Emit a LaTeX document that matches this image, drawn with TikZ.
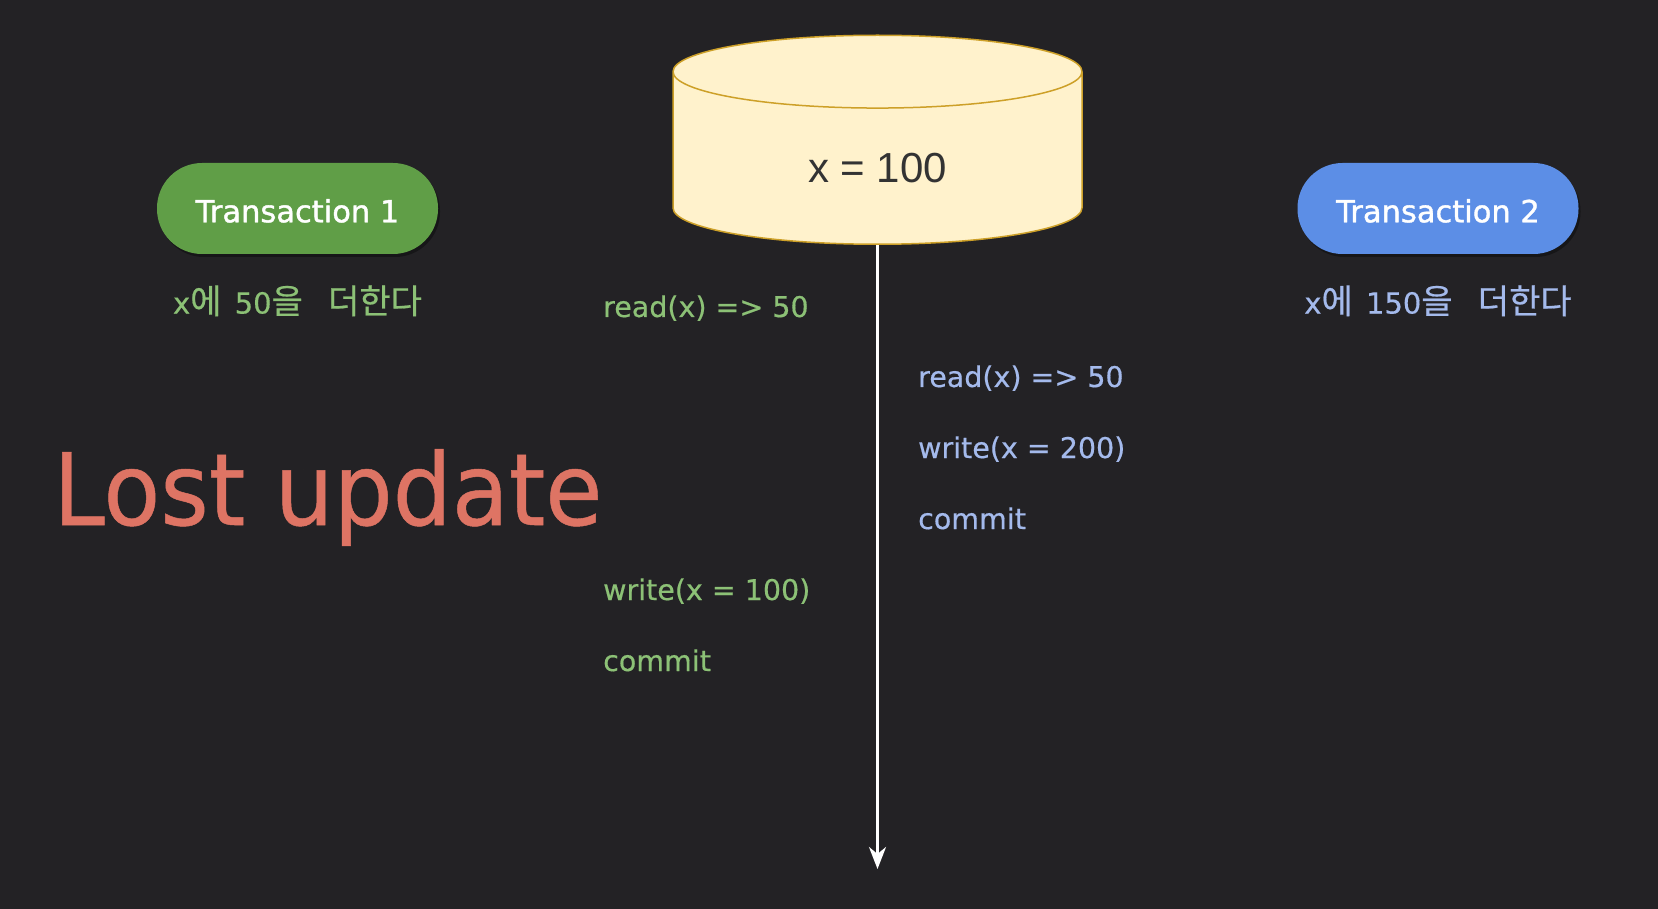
\documentclass[tikz,border=0pt]{standalone}
\usepackage{fontspec}
\setmainfont{DejaVu Sans}[FakeBold=0.5]
\newfontfamily\krfont{Noto Sans CJK KR}[FakeBold=0.6]
\newfontfamily\dbfont{Liberation Sans}
\newfontfamily\pillfont{DejaVu Sans}[FakeBold=1.2]
\usepackage{tikz}
\usetikzlibrary{arrows.meta,positioning,shapes.geometric,shadows}

\definecolor{bgdark}{RGB}{35,34,37}
\definecolor{dbfill}{RGB}{255,242,204}
\definecolor{dbline}{RGB}{205,160,40}
\definecolor{dbtext}{RGB}{51,51,51}
\definecolor{t1fill}{RGB}{96,158,71}
\definecolor{t2fill}{RGB}{92,142,230}
\definecolor{t1text}{RGB}{140,193,118}
\definecolor{t2text}{RGB}{164,186,236}
\definecolor{lost}{RGB}{222,116,100}

\newcommand{\kr}[1]{{\krfont\fontsize{34}{40}\selectfont #1}}

\begin{document}
\begin{tikzpicture}[x=1pt, y=-1pt, >={Stealth[length=22pt, width=17pt, inset=7pt]}]
	\tikzstyle{db} = [cylinder, shape border rotate=90, aspect=0.5, draw=dbline, line width=1.5pt, fill=dbfill, minimum width=409pt, minimum height=209pt, text height=42pt, text=dbtext, font=\dbfont\fontsize{42}{48}\selectfont]
	\tikzstyle{txn} = [rounded corners=45pt, minimum width=281pt, minimum height=91pt, text height=28pt, text=white, font=\pillfont\fontsize{30.5}{36}\selectfont, drop shadow={fill=black, shadow xshift=2pt, shadow yshift=-3pt, opacity=0.35}]
	\tikzstyle{goal} = [inner sep=0pt, font=\fontsize{29}{36}\selectfont]
	\tikzstyle{op} = [anchor=base west, inner sep=0pt, font=\fontsize{28.5}{36}\selectfont]

	\fill[bgdark] (0,0) rectangle (1658,909);

	\path
	node[db, anchor=south] (db) at (877.5,245) {x = 100}
	node[txn, fill=t1fill] (t1) at (297.5,208.5) {Transaction 1}
	node[txn, fill=t2fill] (t2) at (1438,208.5) {Transaction 2}
	node[goal, text=t1text, below=31pt of t1] (g1) {x\kr{에}\hspace{4pt} 50\kr{을}\hspace{16pt} \kr{더한다}}
	node[goal, text=t2text, below=31pt of t2] (g2) {x\kr{에}\hspace{4pt} 150\kr{을}\hspace{16pt} \kr{더한다}}
	node[anchor=base west, inner sep=0pt, text=lost, font=\fontsize{100}{110}\selectfont] (lost) at (53,525) {\scalebox{0.93}[1]{Lost update}}

	% T1 on the left, T2 on the right
	node[op, text=t1text] (r1) at (603,317) {read(x) => 50}
	node[op, text=t2text] (r2) at (918,387) {read(x) => 50}
	node[op, text=t2text] (w2) at (918,458) {write(x = 200)}
	node[op, text=t2text] (c2) at (918,529) {commit}
	node[op, text=t1text] (w1) at (603,600) {write(x = 100)}
	node[op, text=t1text] (c1) at (603,671) {commit}
	node[coordinate] (end) at (877.5,869) {}

	(db) edge[->, white, line width=3pt] (end)
	;
\end{tikzpicture}
\end{document}
